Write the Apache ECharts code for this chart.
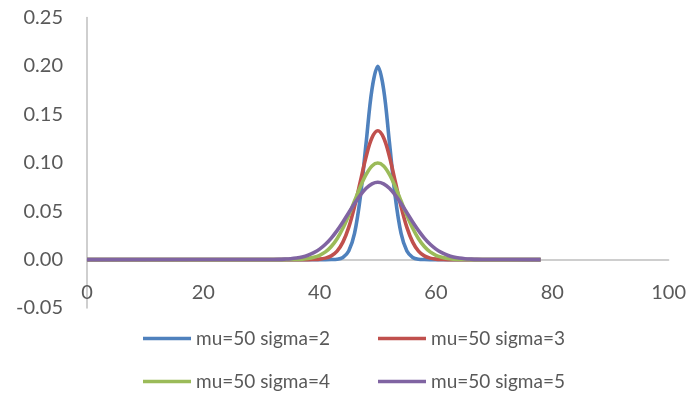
<!DOCTYPE html>
<html>
<head>
<meta charset="utf-8">
<script src="https://cdn.jsdelivr.net/npm/echarts@6/dist/echarts.min.js"></script>
<style>html,body{margin:0;padding:0;background:#fff;}#c{width:689px;height:394px;}</style>
</head>
<body>
<div id="c"></div>
<script>
var seriesNames = ['mu=50 sigma=2', 'mu=50 sigma=3', 'mu=50 sigma=4', 'mu=50 sigma=5'];
var xs = [0, 32, 33, 34, 35, 36, 37, 38, 39, 40, 41, 42, 43, 44, 45, 46, 47, 48, 49, 50,
          51, 52, 53, 54, 55, 56, 57, 58, 59, 60, 61, 62, 63, 64, 65, 66, 67, 68, 78];
var sigma2 = [0, 0, 0, 0, 0, 0, 0, 0, 0, 0, 0, 0.0001, 0.0004, 0.0022, 0.0088, 0.0270, 0.0648, 0.1210, 0.1760, 0.1995,
              0.1760, 0.1210, 0.0648, 0.0270, 0.0088, 0.0022, 0.0004, 0.0001, 0, 0, 0, 0, 0, 0, 0, 0, 0, 0, 0];
var sigma3 = [0, 0, 0, 0, 0, 0, 0, 0, 0.0002, 0.0005, 0.0015, 0.0038, 0.0087, 0.0180, 0.0332, 0.0547, 0.0807, 0.1065, 0.1258, 0.1330,
              0.1258, 0.1065, 0.0807, 0.0547, 0.0332, 0.0180, 0.0087, 0.0038, 0.0015, 0.0005, 0.0002, 0, 0, 0, 0, 0, 0, 0, 0];
var sigma4 = [0, 0, 0, 0, 0.0001, 0.0002, 0.0005, 0.0011, 0.0023, 0.0044, 0.0079, 0.0135, 0.0216, 0.0324, 0.0457, 0.0605, 0.0753, 0.0880, 0.0967, 0.0997,
              0.0967, 0.0880, 0.0753, 0.0605, 0.0457, 0.0324, 0.0216, 0.0135, 0.0079, 0.0044, 0.0023, 0.0011, 0.0005, 0.0002, 0.0001, 0, 0, 0, 0];
var sigma5 = [0, 0.0001, 0.0002, 0.0005, 0.0009, 0.0016, 0.0027, 0.0045, 0.0071, 0.0108, 0.0158, 0.0222, 0.0299, 0.0388, 0.0484, 0.0579, 0.0666, 0.0737, 0.0782, 0.0798,
              0.0782, 0.0737, 0.0666, 0.0579, 0.0484, 0.0388, 0.0299, 0.0222, 0.0158, 0.0108, 0.0071, 0.0045, 0.0027, 0.0016, 0.0009, 0.0005, 0.0002, 0.0001, 0];
var colors = ['#4F81BD', '#C0504D', '#9BBB59', '#8064A2'];
var allValues = [sigma2, sigma3, sigma4, sigma5];

var FONT = 'Lato';
var TXT = '#595959';

function legendAt(i, left, top) {
  return {
    data: [seriesNames[i]], left: left, top: top, orient: 'horizontal',
    icon: 'rect', itemWidth: 48, itemHeight: 3.5, itemGap: 0,
    textStyle: {color: TXT, fontFamily: FONT, fontSize: 19, padding: [0, 0, 0, 0]}
  };
}

var chart = echarts.init(document.getElementById('c'), null, {renderer: 'canvas'});
chart.setOption({
  animation: false,
  color: colors,
  grid: {left: 87, right: 19, top: 17.5, bottom: 86, containLabel: false},
  legend: [legendAt(0, 138, 324), legendAt(1, 373, 324), legendAt(2, 138, 367), legendAt(3, 373, 367)],
  xAxis: {
    type: 'value', min: 0, max: 100, interval: 20,
    offset: -48.4,
    axisLine: {show: true, onZero: false, lineStyle: {color: '#BFBFBF', width: 1.5}},
    axisTick: {show: false},
    splitLine: {show: false},
    axisLabel: {color: TXT, fontFamily: FONT, fontSize: 20, margin: 23}
  },
  yAxis: {
    type: 'value', min: -0.05, max: 0.25, interval: 0.05,
    axisLine: {show: true, lineStyle: {color: '#BFBFBF', width: 1.5}},
    axisTick: {show: false},
    splitLine: {show: false},
    axisLabel: {color: TXT, fontFamily: FONT, fontSize: 20, margin: 24,
      formatter: function (v) { return v.toFixed(2); }}
  },
  series: allValues.map(function (vals, i) {
    return {
      name: seriesNames[i], type: 'line', symbol: 'none',
      smooth: 0.35,
      lineStyle: {width: 3.6, color: colors[i]},
      itemStyle: {color: colors[i]},
      data: xs.map(function (x, k) { return [x, vals[k]]; })
    };
  })
});
</script>
</body>
</html>
